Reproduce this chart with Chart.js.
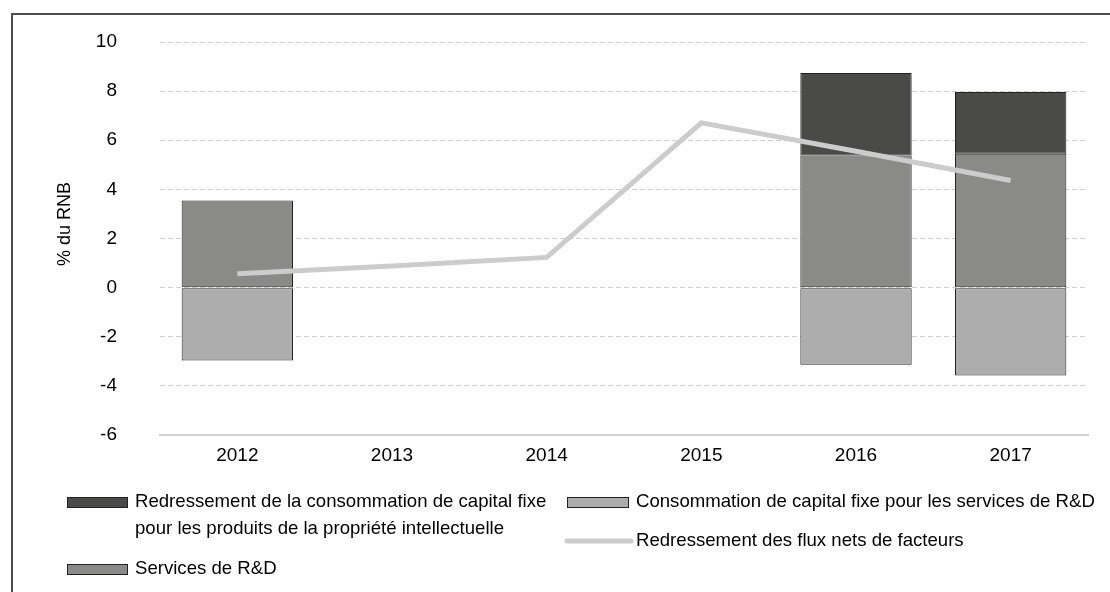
<!DOCTYPE html>
<html><head><meta charset="utf-8">
<script src="https://cdn.jsdelivr.net/npm/chart.js@4.4.0/dist/chart.umd.min.js"></script>
<style>html,body{margin:0;padding:0;background:#fff;overflow:hidden}#wrap{position:relative;width:1110px;height:592px}</style>
</head><body><div id="wrap"><canvas id="c" width="1110" height="592"></canvas></div>
<script>
// ---- data ----
const categories = ['2012', '2013', '2014', '2015', '2016', '2017'];
const redressementCCF = [null, null, null, null, 3.36, 2.51];
const servicesRD = [3.55, null, null, null, 5.38, 5.45];
const ccfServicesRD = [-2.97, null, null, null, -3.14, -3.58];
const fluxNets = [0.56, 0.88, 1.23, 6.71, 5.55, 4.36];
const yTicks = [-6, -4, -2, 0, 2, 4, 6, 8, 10];
const yTitle = '% du RNB';
const labelRedressementCCF = ['Redressement de la consommation de capital fixe', 'pour les produits de la propriété intellectuelle'];
const labelServicesRD = ['Services de R&D'];
const labelCCFServicesRD = ['Consommation de capital fixe pour les services de R&D'];
const labelFluxNets = ['Redressement des flux nets de facteurs'];

// ---- font detection ----
function hasFont(name) {
  const c = document.createElement('canvas').getContext('2d');
  const s = 'abcdefghijklmnopqrstuvwxyz0123456789ABCDEF';
  c.font = '40px monospace'; const w1 = c.measureText(s).width;
  c.font = '40px "' + name + '", monospace'; const w2 = c.measureText(s).width;
  return Math.abs(w1 - w2) > 0.5;
}
const NARROW = hasFont('Liberation Sans Narrow');
const FAMILY = NARROW ? '"Liberation Sans Narrow", "Liberation Sans", Arial, sans-serif' : '"Liberation Sans", Arial, sans-serif';
const FS = NARROW ? 23 : 19;
const LEG_FS = NARROW ? 22.5 : 18.6;
const TITLE_FS = NARROW ? 22 : 18;

const C_DARK = '#4a4a48', C_MED = '#8a8a88', C_LIGHT = '#adadad', C_LINE = '#cccccc', C_EDGE = '#222222';

const frameAndLegend = {
  id: 'frameAndLegend',
  beforeDraw(chart) {
    const ctx = chart.ctx;
    ctx.save();
    ctx.fillStyle = '#fff';
    ctx.fillRect(0, 0, chart.width, chart.height);
    ctx.fillStyle = '#4d4d4d';
    ctx.fillRect(11, 13, chart.width - 11, 2);
    ctx.fillRect(11, 13, 2, chart.height - 13);
    ctx.restore();
  },
  afterDraw(chart) {
    const ctx = chart.ctx;
    const byKey = k => chart.data.datasets.find(d => d.key === k);
    ctx.save();
    // y axis title
    ctx.fillStyle = '#000';
    ctx.font = TITLE_FS + 'px ' + FAMILY;
    ctx.textAlign = 'center';
    ctx.textBaseline = 'middle';
    ctx.translate(65, 224);
    ctx.rotate(-Math.PI / 2);
    ctx.fillText(yTitle, 0, 0);
    ctx.restore();

    // legend
    const items = [
      {d: byKey('redr'), box: [67, 497, 61, 11], tx: 135, ty: [502, 529]},
      {d: byKey('ccf'), box: [567, 497, 62, 11], tx: 636, ty: [502]},
      {d: byKey('flux'), line: [567, 631, 541], tx: 636, ty: [541]},
      {d: byKey('serv'), box: [67, 564, 61, 11], tx: 135, ty: [569]}
    ];
    ctx.save();
    ctx.font = LEG_FS + 'px ' + FAMILY;
    ctx.textAlign = 'left';
    ctx.textBaseline = 'middle';
    items.forEach(it => {
      if (it.box) {
        const [x, y, w, h] = it.box;
        ctx.fillStyle = it.d.backgroundColor;
        ctx.fillRect(x, y, w, h);
        ctx.strokeStyle = it.d.borderColor;
        ctx.lineWidth = 1;
        ctx.strokeRect(x + 0.5, y + 0.5, w - 1, h - 1);
      } else {
        const [x1, x2, y] = it.line;
        ctx.strokeStyle = it.d.borderColor;
        ctx.lineWidth = it.d.borderWidth;
        ctx.lineCap = 'round';
        ctx.beginPath(); ctx.moveTo(x1, y); ctx.lineTo(x2, y); ctx.stroke();
      }
      ctx.fillStyle = '#000';
      it.d.legendLines.forEach((t, i) => ctx.fillText(t, it.tx, it.ty[i]));
    });
    ctx.restore();
  }
};

new Chart(document.getElementById('c'), {
  data: {
    labels: categories,
    datasets: [
      {type: 'bar', key: 'serv', label: labelServicesRD.join(' '), legendLines: labelServicesRD, data: servicesRD,
       backgroundColor: C_MED, borderColor: C_EDGE, borderWidth: 1, borderSkipped: false, stack: 's', order: 2},
      {type: 'bar', key: 'redr', label: labelRedressementCCF.join(' '), legendLines: labelRedressementCCF, data: redressementCCF,
       backgroundColor: C_DARK, borderColor: C_EDGE, borderWidth: 1, borderSkipped: false, stack: 's', order: 3},
      {type: 'bar', key: 'ccf', label: labelCCFServicesRD.join(' '), legendLines: labelCCFServicesRD, data: ccfServicesRD,
       backgroundColor: C_LIGHT, borderColor: C_EDGE, borderWidth: 1, borderSkipped: false, stack: 's', order: 4},
      {type: 'line', key: 'flux', label: labelFluxNets.join(' '), legendLines: labelFluxNets, data: fluxNets,
       borderColor: C_LINE, backgroundColor: C_LINE, borderWidth: 5, pointRadius: 0, tension: 0, fill: false, order: 0,
       borderCapStyle: 'butt'}
    ]
  },
  options: {
    responsive: false,
    animation: false,
    devicePixelRatio: 1,
    layout: {padding: {top: 42, right: 22, bottom: 0, left: 0}},
    datasets: {bar: {categoryPercentage: 1, barPercentage: 0.72}},
    plugins: {legend: {display: false}, tooltip: {enabled: false}},
    scales: {
      x: {
        stacked: true,
        grid: {display: false, drawTicks: false},
        border: {display: true, color: '#d2d2d2', width: 2},
        ticks: {color: '#000', font: {family: FAMILY, size: FS}, padding: 9, maxRotation: 0},
        afterFit(s) { s.height = 157; }
      },
      y: {
        stacked: true,
        min: -6, max: 10,
        grid: {color: '#cfcfcf', lineWidth: 1, drawTicks: true, tickLength: 43, tickColor: 'rgba(0,0,0,0)'},
        border: {display: false, dash: [5, 3]},
        ticks: {color: '#000', font: {family: FAMILY, size: FS}, padding: 0},
        afterBuildTicks(s) { s.ticks = yTicks.map(v => ({value: v})); },
        afterFit(s) { s.width = 160; }
      }
    }
  },
  plugins: [frameAndLegend]
});
</script>
</body></html>
